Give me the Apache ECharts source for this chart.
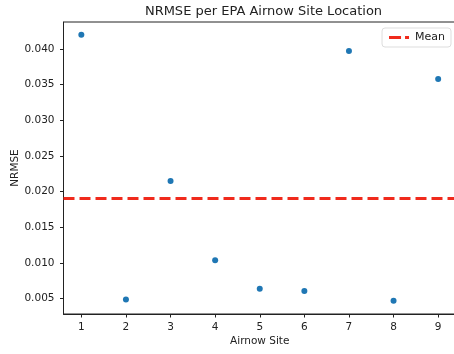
<!DOCTYPE html>
<html>
<head>
<meta charset="utf-8">
<script src="https://cdn.jsdelivr.net/npm/echarts@6/dist/echarts.min.js"></script>
<style>html,body{margin:0;padding:0;background:#fff;overflow:hidden;}#c{width:470px;height:354px;}</style>
</head>
<body>
<div id="c"></div>
<script>
const sites = [1, 2, 3, 4, 5, 6, 7, 8, 9];
const nrmse = [0.0420, 0.0049, 0.0215, 0.0104, 0.0064, 0.0061, 0.0397, 0.0047, 0.0358];
const yTicks = [0.005, 0.010, 0.015, 0.020, 0.025, 0.030, 0.035, 0.040];
const xTicks = [1, 2, 3, 4, 5, 6, 7, 8, 9];
const meanValue = nrmse.reduce((a, b) => a + b, 0) / nrmse.length;

const xMin = 0.6, xMax = 9.4;
const yMin = 0.00286, yMax = 0.04378;

const font = 'DejaVu Sans';
const chart = echarts.init(document.getElementById('c'), null, {renderer: 'canvas'});
chart.setOption({
  backgroundColor: '#ffffff',
  animation: false,
  title: {
    text: 'NRMSE per EPA Airnow Site Location',
    left: 258.5, top: 0, textAlign: 'center',
    textStyle: {fontFamily: font, fontSize: 13, fontWeight: 'normal', color: '#222'}
  },
  legend: {
    right: 19, top: 28,
    padding: [4, 6, 4, 7],
    itemWidth: 22, itemHeight: 3, itemGap: 6,
    backgroundColor: '#fff', borderColor: '#ddd', borderWidth: 1, borderRadius: 3,
    textStyle: {fontFamily: font, fontSize: 11, color: '#222'},
    data: [{name: 'Mean', icon: 'path://M0,0H12V3H0Z M16,0H20V3H16Z', itemStyle: {color: '#f02a1c'}}]
  },
  grid: {left: 63.5, top: 22, right: 14, bottom: 40, show: true, borderColor: '#222', borderWidth: 1,
    outerBoundsMode: 'none', containLabel: false},
  xAxis: {
    type: 'value', min: xMin, max: xMax,
    name: 'Airnow Site', nameLocation: 'middle', nameGap: 22, nameMoveOverlap: false,
    nameTextStyle: {fontFamily: font, fontSize: 10.5, color: '#222'},
    axisLine: {show: true, onZero: false, lineStyle: {color: '#222'}},
    axisTick: {show: true, length: 3.5, customValues: xTicks, lineStyle: {color: '#222'}},
    axisLabel: {customValues: xTicks, margin: 8, fontFamily: font, fontSize: 10.5, color: '#222'},
    splitLine: {show: false}
  },
  yAxis: {
    type: 'value', min: yMin, max: yMax,
    name: 'NRMSE', nameLocation: 'middle', nameGap: 43, nameMoveOverlap: false,
    nameTextStyle: {fontFamily: font, fontSize: 10.5, color: '#222'},
    axisLine: {show: true, onZero: false, lineStyle: {color: '#222'}},
    axisTick: {show: true, length: 3.5, customValues: yTicks, lineStyle: {color: '#222'}},
    axisLabel: {customValues: yTicks, margin: 9, fontFamily: font, fontSize: 10.5, color: '#222',
      formatter: v => v.toFixed(3)},
    splitLine: {show: false}
  },
  series: [
    {
      name: 'NRMSE', type: 'scatter', symbolSize: 6,
      itemStyle: {color: '#1f77b4', opacity: 1},
      data: sites.map((s, i) => [s, nrmse[i]])
    },
    {
      name: 'Mean', type: 'line', symbol: 'none',
      lineStyle: {color: '#f02a1c', width: 3, type: [11, 5]},
      itemStyle: {color: '#f02a1c'},
      data: [[xMin, meanValue], [xMax, meanValue]]
    }
  ]
});
</script>
</body>
</html>
